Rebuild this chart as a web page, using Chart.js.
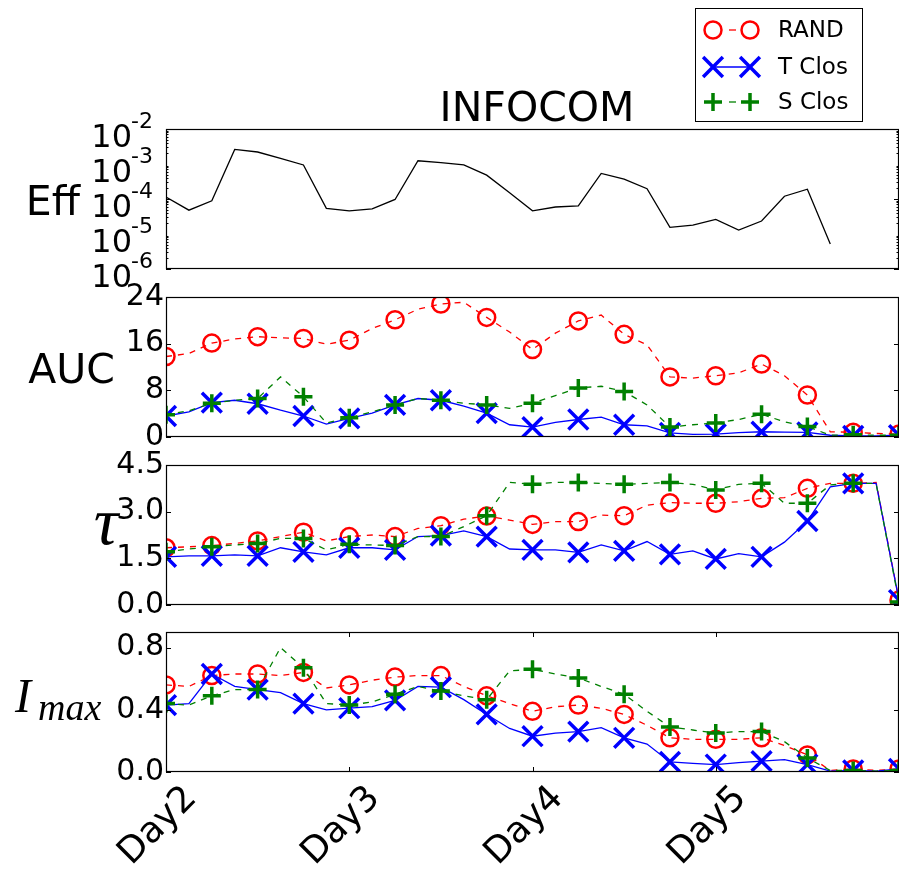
<!DOCTYPE html>
<html lang="en">
<head>
<meta charset="UTF-8">
<title>INFOCOM</title>
<script src="https://cdn.jsdelivr.net/npm/chart.js"></script>
<style>
    body { margin: 0; background: #fff; }
    #wrap { position: relative; width: 899px; height: 871px; }
    #wrap canvas { position: absolute; left: 0; top: 0; }
</style>
</head>
<body>
<div id="wrap">
    <canvas id="effChart" width="899" height="871"></canvas>
    <canvas id="aucChart" width="899" height="871"></canvas>
    <canvas id="tauChart" width="899" height="871"></canvas>
    <canvas id="imaxChart" width="899" height="871"></canvas>
</div>
<script>
// samples every 3 hours, 8 per day
const dayTicks = [0, 8, 16, 24];
const dayLabels = ['Day2', 'Day3', 'Day4', 'Day5'];

const effValues = [1.14e-4, 4.8e-5, 8.9e-5, 2.6e-3, 2.2e-3, 1.45e-3, 9.4e-4, 5.4e-5, 4.6e-5, 5.2e-5,
    9.7e-5, 1.24e-3, 1.1e-3, 9.4e-4, 4.8e-4, 1.5e-4, 4.6e-5, 5.9e-5, 6.4e-5, 5.4e-4,
    3.7e-4, 1.96e-4, 1.55e-5, 1.8e-5, 2.6e-5, 1.3e-5, 2.35e-5, 1.2e-4, 1.9e-4, 5.2e-6,
    null, null, null];
const effTicks = [1e-6, 1e-5, 1e-4, 1e-3, 1e-2];

const aucRand = [13.8, 14.3, 16.1, 16.8, 17.2, 17.0, 16.9, 15.9, 16.6, 18.6, 20.1, 21.9, 22.8, 23.1, 20.5, 18.0,
    15.0, 17.8, 19.9, 20.9, 17.6, 15.8, 10.3, 10.1, 10.5, 11.0, 12.5, 10.5, 7.2, 0.9, 0.8, 0.6, 0.5];
const aucTClos = [3.6, 4.3, 5.9, 6.3, 5.7, 4.6, 3.6, 2.2, 3.2, 4.1, 5.5, 6.6, 6.3, 5.3, 4.1, 2.1,
    1.7, 2.5, 3.0, 3.4, 2.1, 1.9, 0.7, 0.45, 0.5, 0.75, 0.9, 0.85, 0.8, 0.3, 0.2, 0.2, 0.3];
const aucSClos = [3.8, 4.5, 5.8, 6.3, 6.6, 10.3, 6.9, 2.4, 3.3, 4.3, 5.5, 6.6, 6.3, 5.8, 5.5, 4.9,
    5.8, 7.1, 8.4, 8.7, 7.8, 5.5, 1.7, 2.1, 2.4, 3.0, 3.9, 2.6, 1.8, 0.3, 0.4, 0.3, 0.3];
const aucTicks = [0, 8, 16, 24];

const tauRand = [1.84, 1.87, 1.91, 1.98, 2.06, 2.2, 2.34, 2.06, 2.2, 2.25, 2.2, 2.46, 2.55, 2.76, 2.86, 2.73,
    2.59, 2.68, 2.68, 2.89, 2.87, 3.21, 3.29, 3.27, 3.27, 3.32, 3.43, 3.45, 3.75, 3.91, 3.91, 3.94, 0.16];
const tauTClos = [1.55, 1.58, 1.58, 1.61, 1.58, 1.84, 1.71, 1.61, 1.84, 1.84, 1.77, 2.2, 2.23, 2.38, 2.2, 1.8,
    1.77, 1.77, 1.69, 1.93, 1.74, 2.04, 1.63, 1.74, 1.48, 1.65, 1.55, 2.02, 2.7, 3.8, 3.91, 3.91, 0.16];
const tauSClos = [1.71, 1.8, 1.87, 1.93, 1.98, 2.14, 2.14, 1.77, 1.95, 1.93, 1.91, 2.2, 2.2, 2.52, 2.87, 3.94,
    3.88, 3.94, 3.94, 3.91, 3.88, 3.91, 3.94, 3.88, 3.7, 3.88, 3.91, 3.27, 3.27, 3.86, 3.91, 3.91, 0.1];
const tauTicks = [0, 1.5, 3.0, 4.5];

const imaxRand = [0.56, 0.55, 0.62, 0.63, 0.63, 0.62, 0.64, 0.54, 0.56, 0.59, 0.61, 0.62, 0.62, 0.55, 0.49, 0.44,
    0.39, 0.42, 0.43, 0.41, 0.37, 0.30, 0.22, 0.21, 0.21, 0.21, 0.22, 0.17, 0.11, 0.01, 0.02, 0.01, 0.02];
const imaxTClos = [0.43, 0.44, 0.63, 0.55, 0.53, 0.51, 0.44, 0.40, 0.41, 0.42, 0.46, 0.55, 0.545, 0.465, 0.37, 0.28,
    0.23, 0.25, 0.26, 0.285, 0.22, 0.18, 0.065, 0.055, 0.048, 0.06, 0.07, 0.08, 0.048, 0.006, 0.01, 0.006, 0.02];
const imaxSClos = [0.44, 0.43, 0.49, 0.53, 0.53, 0.80, 0.67, 0.44, 0.43, 0.45, 0.50, 0.55, 0.52, 0.49, 0.465, 0.65,
    0.66, 0.63, 0.605, 0.55, 0.50, 0.39, 0.29, 0.27, 0.25, 0.26, 0.26, 0.195, 0.09, 0.01, 0.01, 0.006, 0.01];
const imaxTicks = [0, 0.4, 0.8];

const seriesNames = ['RAND', 'T Clos', 'S Clos'];
const seriesColors = ['#ff0000', '#0000ff', '#008000'];
const seriesMarkers = ['circle', 'crossRot', 'cross'];

const FONT = '"DejaVu Sans", sans-serif';
const W = 899, H = 871;
const PLOT_LEFT = 166;

// marker geometry (radius, stroke)
const markerSize = { circle: 8.5, crossRot: 14, cross: 9 };
const markerWidth = { circle: 2.5, crossRot: 3.5, cross: 3.5 };

function lineSet(i, values) {
    const marker = seriesMarkers[i];
    return {
        label: seriesNames[i],
        order: 3 - i,
        data: values.map((v, k) => ({ x: k, y: v })),
        borderColor: seriesColors[i],
        borderWidth: 1.3,
        borderDash: i === 1 ? [] : [6, 6],
        tension: 0,
        fill: false,
        pointStyle: marker,
        // marker on every other sample
        pointRadius: ctx => ctx.dataIndex % 2 === 0 ? markerSize[marker] : 0,
        pointBorderColor: seriesColors[i],
        pointBackgroundColor: 'rgba(0,0,0,0)',
        pointBorderWidth: markerWidth[marker]
    };
}

function drawMarker(ctx, marker, x, y, color) {
    const r = markerSize[marker];
    ctx.save();
    ctx.strokeStyle = color;
    ctx.lineWidth = markerWidth[marker];
    ctx.setLineDash([]);
    ctx.beginPath();
    if (marker === 'circle') {
        ctx.arc(x, y, r, 0, Math.PI * 2);
    } else if (marker === 'crossRot') {
        const d = r * Math.SQRT1_2;
        ctx.moveTo(x - d, y - d); ctx.lineTo(x + d, y + d);
        ctx.moveTo(x - d, y + d); ctx.lineTo(x + d, y - d);
    } else {
        ctx.moveTo(x - r, y); ctx.lineTo(x + r, y);
        ctx.moveTo(x, y - r); ctx.lineTo(x, y + r);
    }
    ctx.stroke();
    ctx.restore();
}

// box around each panel, inward ticks, plus extra text
function makeFrame(opts) {
    return {
        id: 'frame',
        afterDatasetsDraw(chart) {
            const ctx = chart.ctx, a = chart.chartArea;
            const ys = chart.scales.y, xs = chart.scales.x;
            ctx.save();
            ctx.strokeStyle = '#000';
            ctx.lineWidth = 1.2;
            ctx.strokeRect(Math.round(a.left) + 0.5, Math.round(a.top) + 0.5,
                Math.round(a.right - a.left) - 1, Math.round(a.bottom - a.top) - 1);
            ctx.lineWidth = 1;
            ctx.beginPath();
            const tick = (v, len) => {
                const y = Math.round(ys.getPixelForValue(v)) + 0.5;
                ctx.moveTo(a.left, y); ctx.lineTo(a.left + len, y);
                ctx.moveTo(a.right, y); ctx.lineTo(a.right - len, y);
            };
            ys.ticks.forEach(t => tick(t.value, 5));
            (opts.minor || []).forEach(v => tick(v, 2.5));
            if (opts.xTicks) {
                opts.xTicks.forEach(v => {
                    const x = Math.round(xs.getPixelForValue(v)) + 0.5;
                    ctx.moveTo(x, a.top); ctx.lineTo(x, a.top + 5);
                    ctx.moveTo(x, a.bottom); ctx.lineTo(x, a.bottom - 5);
                });
            }
            ctx.stroke();
            ctx.restore();
        },
        afterDraw(chart) {
            if (opts.draw) {
                chart.ctx.save();
                opts.draw(chart, chart.ctx);
                chart.ctx.restore();
            }
        }
    };
}

function makePanel(id, cfg) {
    return new Chart(document.getElementById(id), {
        type: 'line',
        data: { datasets: cfg.datasets },
        options: {
            responsive: false,
            animation: false,
            events: [],
            layout: {
                autoPadding: false,
                padding: { left: 0, right: 0, top: cfg.top, bottom: H - cfg.bottom }
            },
            plugins: { legend: { display: false }, tooltip: { enabled: false } },
            scales: {
                x: { type: 'linear', min: 0, max: 32, display: false },
                y: {
                    type: cfg.type || 'linear',
                    min: cfg.min,
                    max: cfg.max,
                    afterFit: s => { s.width = PLOT_LEFT; },
                    afterBuildTicks: s => { s.ticks = cfg.ticks.map(v => ({ value: v })); },
                    grid: { display: false, drawTicks: false },
                    border: { display: false },
                    ticks: {
                        padding: 2,
                        color: '#000',
                        font: { family: FONT, size: 30 },
                        callback: cfg.fmt
                    }
                }
            }
        },
        plugins: [makeFrame(cfg.frame || {})]
    });
}

// minor ticks of the log axis
const effMinor = [];
[1e-6, 1e-5, 1e-4, 1e-3].forEach(d => { for (let m = 2; m < 10; m++) effMinor.push(d * m); });

makePanel('effChart', {
    top: 129, bottom: 269,
    type: 'logarithmic', min: 1e-6, max: 1e-2, ticks: effTicks,
    fmt: () => '',
    datasets: [{
        data: effValues.map((v, k) => ({ x: k, y: v })),
        borderColor: '#000', borderWidth: 1.3, tension: 0, pointRadius: 0, fill: false
    }],
    frame: {
        minor: effMinor,
        draw(chart, ctx) {
            const ys = chart.scales.y;
            ctx.fillStyle = '#000';
            ctx.textBaseline = 'alphabetic';
            // decade labels 10^k
            effTicks.forEach(v => {
                const y = ys.getPixelForValue(v);
                const exp = String(Math.round(Math.log10(v)));
                ctx.font = '22px ' + FONT;
                ctx.textAlign = 'right';
                ctx.fillText(exp, 153, y - 1.5);
                const ew = ctx.measureText(exp).width;
                ctx.font = '32px ' + FONT;
                ctx.fillText('10', 154 - ew, y + 18);
            });
            ctx.font = '41px ' + FONT;
            ctx.textAlign = 'right';
            ctx.fillText('Eff', 80, 215);

            // title
            ctx.textAlign = 'center';
            ctx.fillText('INFOCOM', 537, 121);

            // legend
            ctx.fillStyle = '#fff';
            ctx.fillRect(695.5, 8.5, 167, 113);
            ctx.strokeStyle = '#000';
            ctx.lineWidth = 1;
            ctx.strokeRect(695.5, 8.5, 167, 113);
            const rows = [30, 67, 102];
            ctx.font = '23px ' + FONT;
            ctx.textAlign = 'left';
            ctx.textBaseline = 'middle';
            seriesNames.forEach((name, i) => {
                const y = rows[i];
                ctx.save();
                ctx.strokeStyle = seriesColors[i];
                ctx.lineWidth = 1.3;
                ctx.setLineDash(i === 1 ? [] : [7, 30]);
                ctx.lineDashOffset = i === 1 ? 0 : -16;
                ctx.beginPath();
                ctx.moveTo(713, y); ctx.lineTo(750, y);
                ctx.stroke();
                ctx.restore();
                drawMarker(ctx, seriesMarkers[i], 713, y, seriesColors[i]);
                drawMarker(ctx, seriesMarkers[i], 750, y, seriesColors[i]);
                ctx.fillStyle = '#000';
                ctx.fillText(name, 778, y + 1);
            });
        }
    }
});

makePanel('aucChart', {
    top: 297, bottom: 437,
    min: 0, max: 24, ticks: aucTicks,
    fmt: v => String(v),
    datasets: [lineSet(0, aucRand), lineSet(1, aucTClos), lineSet(2, aucSClos)],
    frame: {
        draw(chart, ctx) {
            ctx.fillStyle = '#000';
            ctx.font = '41px ' + FONT;
            ctx.textAlign = 'right';
            ctx.fillText('AUC', 115, 383);
        }
    }
});

makePanel('tauChart', {
    top: 465, bottom: 605,
    min: 0, max: 4.5, ticks: tauTicks,
    fmt: v => v.toFixed(1),
    datasets: [lineSet(0, tauRand), lineSet(1, tauTClos), lineSet(2, tauSClos)],
    frame: {
        draw(chart, ctx) {
            ctx.fillStyle = '#000';
            ctx.font = 'italic 68px "Liberation Serif", serif';
            ctx.textAlign = 'right';
            ctx.fillText('\u03c4', 118, 544);
        }
    }
});

makePanel('imaxChart', {
    top: 632, bottom: 772,
    min: 0, max: 0.9, ticks: imaxTicks,
    fmt: v => v.toFixed(1),
    datasets: [lineSet(0, imaxRand), lineSet(1, imaxTClos), lineSet(2, imaxSClos)],
    frame: {
        xTicks: dayTicks,
        draw(chart, ctx) {
            ctx.fillStyle = '#000';
            ctx.textAlign = 'left';
            ctx.font = 'italic 48px "Liberation Serif", serif';
            ctx.fillText('I', 15, 712);
            ctx.font = 'italic 38px "Liberation Serif", serif';
            ctx.fillText('max', 38, 720);

            // rotated day labels, box centred under each tick
            const xs = chart.scales.x;
            const size = 36;
            ctx.font = size + 'px ' + FONT;
            ctx.textAlign = 'center';
            ctx.textBaseline = 'middle';
            dayTicks.forEach((v, i) => {
                const x = xs.getPixelForValue(v) - 8;
                const w = ctx.measureText(dayLabels[i]).width;
                const boxH = (w + size * 1.17) * Math.SQRT1_2;
                ctx.save();
                ctx.translate(x, 778 + boxH / 2);
                ctx.rotate(-Math.PI / 4);
                ctx.fillText(dayLabels[i], 0, 0);
                ctx.restore();
            });
        }
    }
});
</script>
</body>
</html>
